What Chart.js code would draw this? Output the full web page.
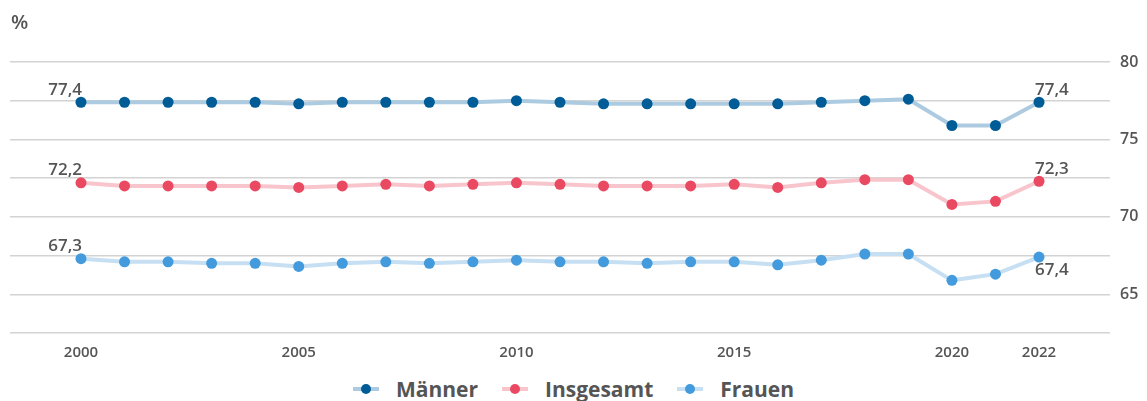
<!DOCTYPE html>
<html lang="de">
<head>
    <meta charset="UTF-8">
    <title>Erwerbstätigenquote</title>
    <script src="https://cdn.jsdelivr.net/npm/chart.js"></script>
    <style>
        body { margin: 0; background: #fff; font-family: "Open Sans", sans-serif; color: #555; }
        #wrap { position: relative; width: 1147px; height: 401px; overflow: hidden; }
        #unit { position: absolute; left: 11px; top: 8px; font-size: 20px; font-weight: 600; }
        #box { position: absolute; left: 0; top: 0; width: 1147px; height: 365px; }
        #legend { position: absolute; left: 0; top: 375px; width: 1147px; display: flex; justify-content: center; gap: 24px; font-size: 21px; font-weight: 700; }
        .item { display: flex; align-items: center; }
        .sym { position: relative; width: 26px; height: 4px; margin-right: 17px; }
        .sym i { position: absolute; left: 8px; top: -3px; width: 10px; height: 10px; border-radius: 50%; }
    </style>
</head>
<body>
<div id="wrap">
    <div id="box"><canvas id="chart"></canvas></div>
    <div id="unit">%</div>
    <div id="legend"></div>
</div>
<script>
    // Jahre und Quoten (%)
    const years = [2000, 2001, 2002, 2003, 2004, 2005, 2006, 2007, 2008, 2009, 2010, 2011,
                   2012, 2013, 2014, 2015, 2016, 2017, 2018, 2019, 2020, 2021, 2022];
    const maenner = [77.4, 77.4, 77.4, 77.4, 77.4, 77.3, 77.4, 77.4, 77.4, 77.4, 77.5, 77.4,
                     77.3, 77.3, 77.3, 77.3, 77.3, 77.4, 77.5, 77.6, 75.9, 75.9, 77.4];
    const insgesamt = [72.2, 72.0, 72.0, 72.0, 72.0, 71.9, 72.0, 72.1, 72.0, 72.1, 72.2, 72.1,
                       72.0, 72.0, 72.0, 72.1, 71.9, 72.2, 72.4, 72.4, 70.8, 71.0, 72.3];
    const frauen = [67.3, 67.1, 67.1, 67.0, 67.0, 66.8, 67.0, 67.1, 67.0, 67.1, 67.2, 67.1,
                    67.1, 67.0, 67.1, 67.1, 66.9, 67.2, 67.6, 67.6, 65.9, 66.3, 67.4];
    const xTicks = [2000, 2005, 2010, 2015, 2020, 2022];

    const series = [
        { label: 'Männer', data: maenner, point: '#005c97', line: '#adcbe0', endBelow: false },
        { label: 'Insgesamt', data: insgesamt, point: '#e94a62', line: '#f8c5cc', endBelow: false },
        { label: 'Frauen', data: frauen, point: '#439bdd', line: '#c6dff3', endBelow: true }
    ];

    // Legende als HTML
    const legend = document.getElementById('legend');
    series.forEach(s => {
        const item = document.createElement('div');
        item.className = 'item';
        item.innerHTML = '<span class="sym" style="background:' + s.line + '"><i style="background:' + s.point + '"></i></span>' + s.label;
        legend.appendChild(item);
    });

    // Werte am ersten und letzten Punkt
    const endLabels = {
        id: 'endLabels',
        afterDatasetsDraw(chart) {
            const ctx = chart.ctx;
            ctx.save();
            ctx.font = '600 17px "Open Sans", sans-serif';
            ctx.fillStyle = '#555';
            const fmt = v => v.toFixed(1).replace('.', ',');
            chart.data.datasets.forEach((ds, i) => {
                const pts = chart.getDatasetMeta(i).data;
                const first = pts[0], last = pts[pts.length - 1];
                const vals = series[i].data;
                ctx.textAlign = 'right';
                ctx.textBaseline = 'bottom';
                ctx.fillText(fmt(vals[0]), first.x + 1, first.y - 4);
                ctx.textAlign = 'left';
                if (series[i].endBelow) {
                    ctx.textBaseline = 'top';
                    ctx.fillText(fmt(vals[vals.length - 1]), last.x - 4, last.y + 5);
                } else {
                    ctx.fillText(fmt(vals[vals.length - 1]), last.x - 4, last.y - 4);
                }
            });
            ctx.restore();
        }
    };

    new Chart(document.getElementById('chart'), {
        type: 'line',
        data: {
            datasets: series.map(s => ({
                label: s.label,
                data: years.map((y, i) => ({ x: y, y: s.data[i] })),
                borderColor: s.line,
                borderWidth: 4,
                pointBackgroundColor: s.point,
                pointBorderWidth: 0,
                pointRadius: 5.5,
                tension: 0
            }))
        },
        options: {
            responsive: true,
            maintainAspectRatio: false,
            animation: false,
            layout: { padding: { left: 10, top: 62, right: 0, bottom: 0 } },
            plugins: { legend: { display: false }, tooltip: { enabled: false } },
            scales: {
                x: {
                    type: 'linear',
                    min: 1998.37,
                    max: 2023.63,
                    afterBuildTicks: axis => { axis.ticks = xTicks.map(v => ({ value: v })); },
                    grid: { display: false },
                    border: { display: false },
                    ticks: {
                        callback: v => String(v),
                        color: '#555',
                        font: { family: '"Open Sans", sans-serif', size: 15, weight: '600' },
                        padding: 3,
                        maxRotation: 0
                    }
                },
                y: {
                    position: 'right',
                    min: 62.5,
                    max: 80,
                    afterFit: axis => { axis.width = 37; },
                    ticks: {
                        stepSize: 2.5,
                        callback: v => (v % 5 === 0 ? String(v) : ''),
                        color: '#555',
                        font: { family: '"Open Sans", sans-serif', size: 16, weight: '600' },
                        padding: 10
                    },
                    grid: { color: '#d3d3d3', lineWidth: 1.5, drawTicks: false },
                    border: { display: false }
                }
            }
        },
        plugins: [endLabels]
    });
</script>
</body>
</html>
